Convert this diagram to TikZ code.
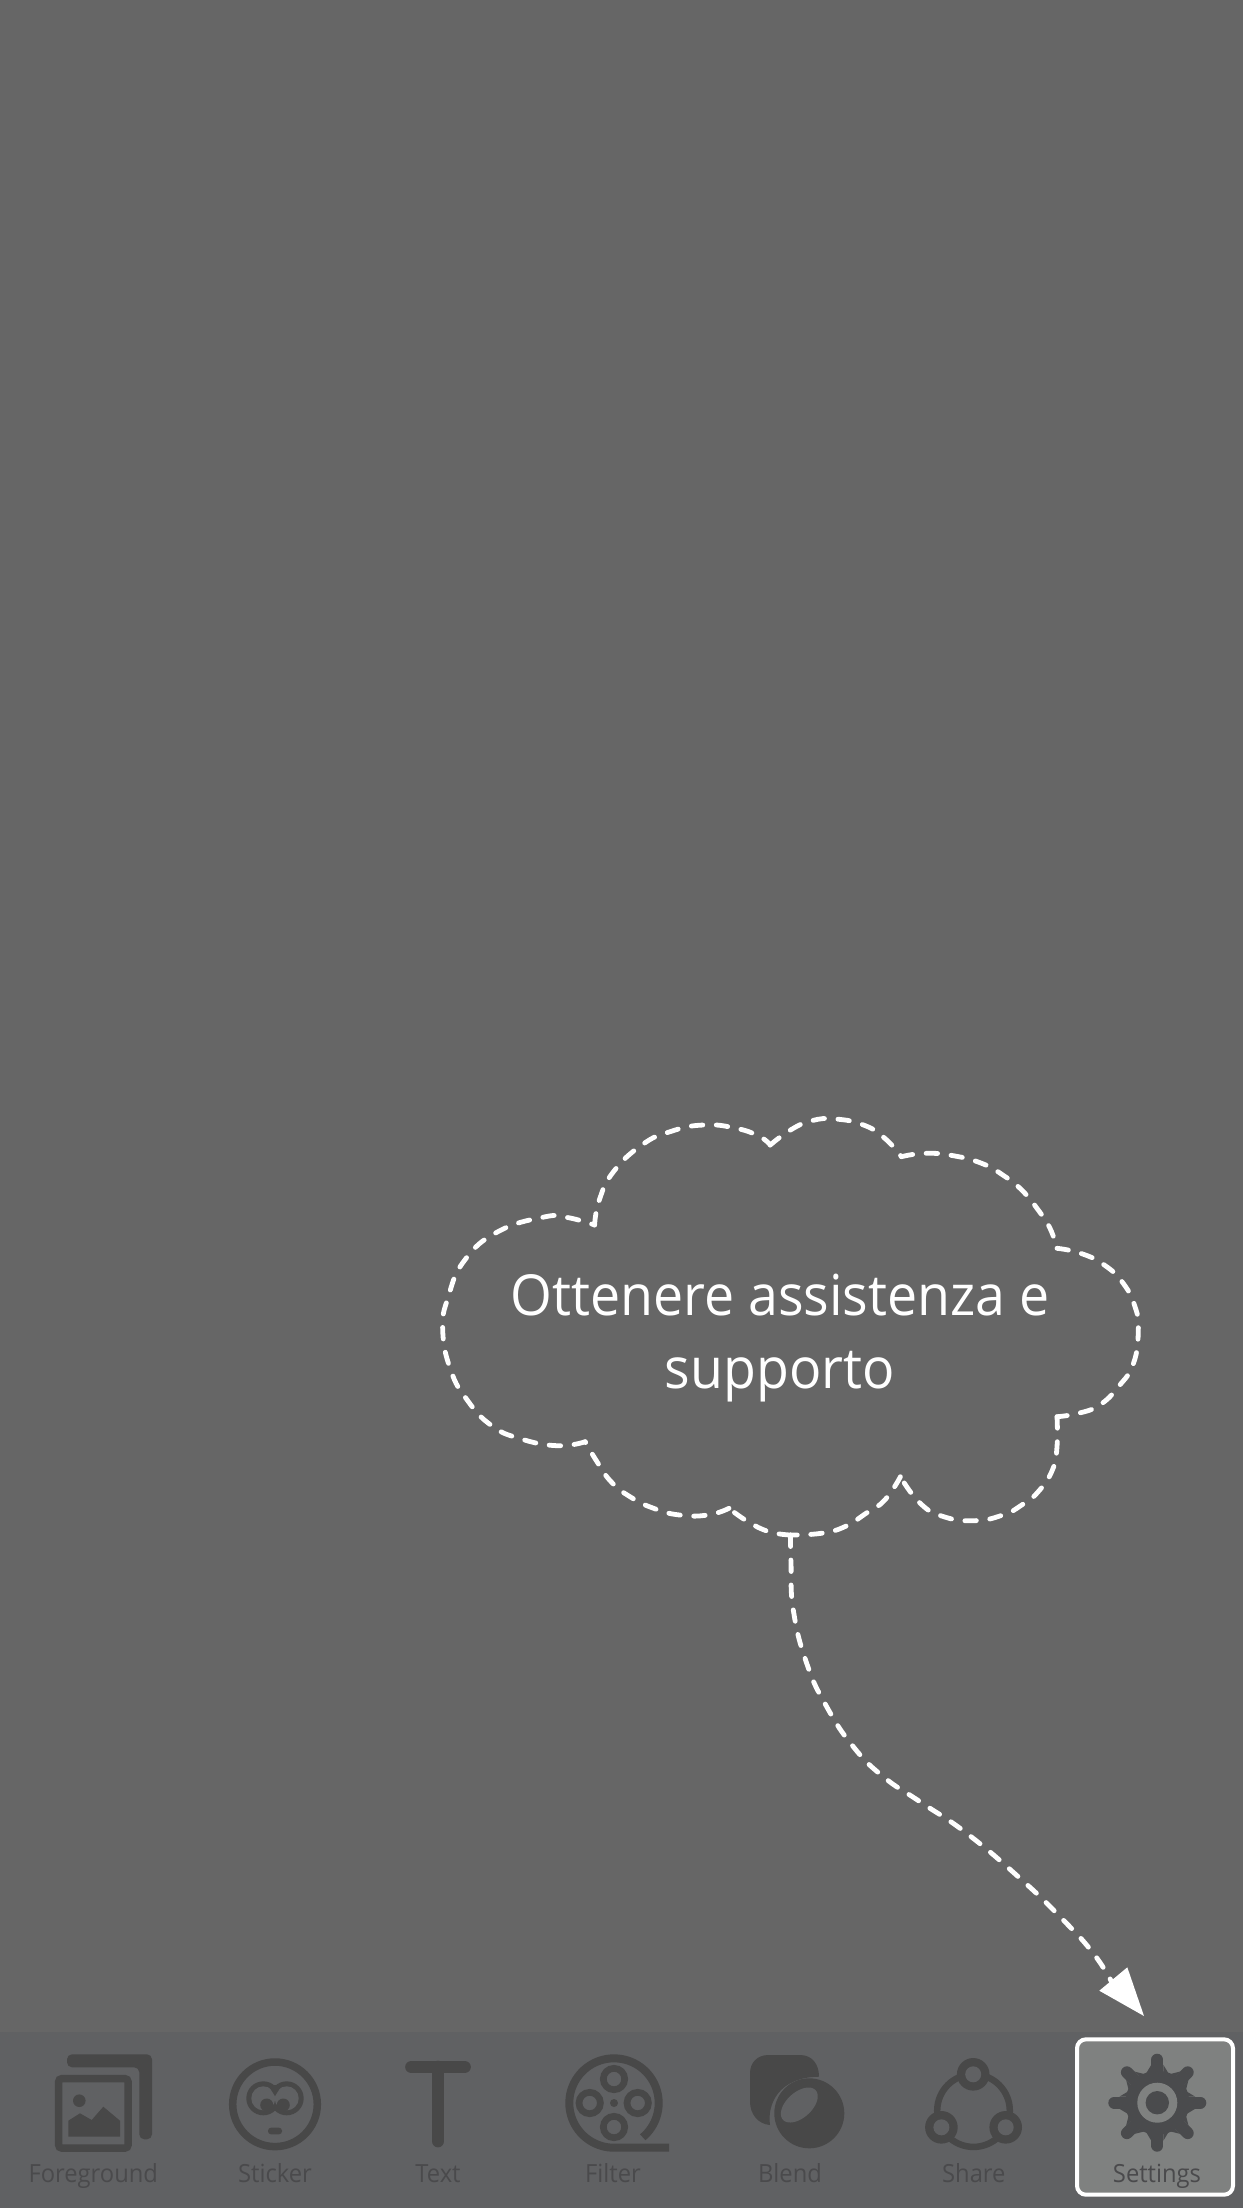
\documentclass[tikz,border=0pt]{standalone}
\usepackage{fontspec}
\setmainfont{Open Sans}
\definecolor{bgc}{HTML}{666666}
\definecolor{barc}{HTML}{606163}
\definecolor{iconc}{HTML}{484848}
\definecolor{labelc}{HTML}{4A4A4C}
\definecolor{selc}{HTML}{7F8180}
\definecolor{gearc}{HTML}{4A4B4D}
\tikzset{
  cloudline/.style={draw=white,line width=4.8pt,line cap=round,dash pattern=on 11.5pt off 13.5pt},
  barlabel/.style={font=\fontsize{25}{28}\selectfont,text=labelc,anchor=base,inner sep=0pt,transform shape,xscale=.95},
  bubbletext/.style={font=\fontsize{56.5}{73}\selectfont,text=white,align=center,inner sep=0pt,transform shape,xscale=.95},
  iconline/.style={draw=iconc,line width=7.5pt},
}
\begin{document}
\begin{tikzpicture}[x=1pt,y=-1pt]
\useasboundingbox (0,0) rectangle (1242,2208);
\fill[bgc] (-6,-6) rectangle (1248,2214);
\fill[barc] (-6,2032) rectangle (1248,2214);
% selected tool
\draw[draw=white,line width=4pt,fill=selc,rounded corners=9pt] (1077,2039.3) rectangle (1233,2194.7);
% cloud cusps
\coordinate (A) at (594.6,1225);
\coordinate (B) at (770.2,1145);
\coordinate (C) at (901.4,1156.7);
\coordinate (D) at (1057,1248.3);
\coordinate (E) at (1057,1416.7);
\coordinate (F) at (900.4,1476.7);
\coordinate (G) at (790.5,1535);
\coordinate (H) at (729,1508.3);
\coordinate (I) at (585.2,1441.7);
\coordinate (tip) at (1144,2016);
% cloud lobes
\draw[cloudline] plot[smooth,tension=.8] coordinates {(A) (599.3,1200) (613.5,1171.7) (641.8,1145) (670,1131.7) (703.2,1125) (736.2,1128.3) (759.8,1136.7) (B)};
\draw[cloudline] plot[smooth,tension=.8] coordinates {(B) (790.5,1130) (811.7,1120.7) (835.3,1119) (863.6,1125) (884.8,1138.3) (C)};
\draw[cloudline] plot[smooth,tension=.8] coordinates {(C) (925,1153.3) (953.3,1155.7) (981.6,1163.3) (1002.8,1175) (1021.7,1190) (1038.2,1210) (1050,1228.3) (D)};
\draw[cloudline] plot[smooth,tension=.8] coordinates {(D) (1080.7,1253.3) (1104.3,1265) (1123.2,1283.3) (1135,1306.7) (1138.3,1330) (1133.5,1363.3) (1118.4,1386.7) (1099.6,1405) (1078.3,1413.3) (E)};
\draw[cloudline] plot[smooth,tension=.8] coordinates {(E) (1057,1446.7) (1052.4,1470) (1038.2,1491.7) (1021.7,1505) (1002.8,1515) (974.5,1520.7) (943.8,1516.7) (920.2,1503.3) (F)};
\draw[cloudline] plot[smooth,tension=.8] coordinates {(F) (884.8,1500) (866,1513.3) (844.7,1526.7) (821.1,1533.3) (G)};
\draw[cloudline] plot[smooth,tension=.8] coordinates {(G) (769.2,1531.7) (748,1521.7) (H)};
\draw[cloudline] plot[smooth,tension=.8] coordinates {(H) (707.9,1515) (679.6,1515) (653.6,1508.3) (630,1496.7) (611.1,1481.7) (597,1461.7) (I)};
\draw[cloudline] plot[smooth,tension=.8] coordinates {(I) (556.9,1445.7) (519,1438.3) (490.8,1425) (467.2,1400) (450.7,1370) (442.7,1330) (448.3,1296.7) (464.8,1260) (497.9,1231.7) (542.7,1217.3) (566.3,1217.3) (A)};
\node[bubbletext] (bubble) at (780,1338) {Ottenere assistenza e\\supporto};
% pointer
\draw[cloudline] plot[smooth,tension=.8] coordinates {(G) (791,1563.3) (793.3,1610) (806.7,1663.3) (826.7,1706.7) (853.3,1746.7) (883.3,1776.7) (920,1801.7) (966.7,1833.3) (1020,1878.3) (1060,1916.7) (1093.3,1953.3) (1113.3,1985)};
\fill[white] (tip) -- (1099.3,1990.7) -- (1127.3,1967.3) -- cycle;
% Foreground
\fill[iconc,rounded corners=5pt] (67,2067.3) -- (67,2054.3) -- (152,2054.3) -- (152,2139.3) -- (139.3,2139.3) -- (139.3,2067.3) -- cycle;
\draw[iconline,rounded corners=3pt] (58.7,2078.7) rectangle (128,2148);
\fill[iconc] (79.3,2100.7) circle (6.3);
\fill[iconc] (68.3,2136.7) -- (68.3,2120.7) -- (80,2113.3) -- (91.7,2120) -- (103.3,2106.7) -- (120,2120.7) -- (120,2136.7) -- cycle;
% Sticker
\draw[iconline] (275,2104.3) circle (42.3);
\fill[iconc] (263.3,2098.3) circle (17) (286.7,2098.3) circle (17);
\fill[barc] (263.3,2098.3) circle (12) (286.7,2098.3) circle (12);
\fill[iconc] (268,2085) -- (282,2085) -- (275,2096) -- cycle;
\fill[iconc] (266.7,2105) circle (6.5) (283.3,2105) circle (6.5);
\fill[iconc,rounded corners=3pt] (268,2127.7) rectangle (282,2134.3);
% Text
\draw[iconc,line width=12.7pt,line cap=round] (411.5,2067) -- (464.5,2067);
\draw[iconc,line width=12.7pt,line cap=round] (438,2067) -- (438,2141);
% Filter
\draw[iconc,line width=8pt] plot[domain=50:-270,samples=80] ({614+44.7*cos(\x)},{2103+44.7*sin(\x)}) -- (669,2147.7);
\foreach \cx/\cy in {614/2079,614/2127,589.7/2103,637.7/2103}
  \draw[iconc,line width=6.7pt] (\cx,\cy) circle (10.7);
\fill[iconc] (614,2103) circle (4);
% Blend
\fill[iconc] (819,2076.7) .. controls (819,2064) and (812,2055) .. (800,2055) -- (768.3,2055) .. controls (757,2055) and (750,2063) .. (750,2073.3) -- (750,2101.7) .. controls (750,2114) and (758,2124) .. (770,2125) .. controls (767,2105) and (778,2077) .. (819,2076.7) -- cycle;
\fill[iconc] (809.3,2113.3) circle (35);
\fill[barc] plot[domain=0:360,samples=60] ({799.3+22*cos(\x)*cos(-42)-12.7*sin(\x)*sin(-42)},{2105+22*cos(\x)*sin(-42)+12.7*sin(\x)*cos(-42)}) -- cycle;
% Share
\draw[iconc,line width=6.5pt] (973.5,2110.6) circle (36.3);
\foreach \cx/\cy in {973.2/2074.3,941.4/2127.3,1005.7/2127.3}{
  \fill[iconc] (\cx,\cy) circle (16.3);
  \fill[barc] (\cx,\cy) circle (8);
}
% Settings gear
\fill[gearc] (1157.3,2102.7) circle (32);
\foreach \a in {0,45,...,315}{
  \draw[gearc,line width=12pt,line cap=round] (1157.3,2102.7) -- ++(\a:43);
  \fill[gearc] (1157.3,2102.7) ++(\a:38) ++(\a+90:6) -- ++(\a+180:10) -- ++(\a+90:6) -- cycle;
  \fill[gearc] (1157.3,2102.7) ++(\a:38) ++(\a-90:6) -- ++(\a+180:10) -- ++(\a-90:6) -- cycle;
}
\fill[selc] (1157.3,2102.7) circle (20);
\fill[gearc] (1157.3,2102.7) circle (11.7);
% labels
\node[barlabel] (l1) at (93.3,2182.7) {Foreground};
\node[barlabel] (l2) at (275,2182.7) {Sticker};
\node[barlabel] (l3) at (438,2182.7) {Text};
\node[barlabel] (l4) at (613,2182.7) {Filter};
\node[barlabel] (l5) at (790,2182.7) {Blend};
\node[barlabel] (l6) at (973.8,2182.7) {Share};
\node[barlabel] (l7) at (1157,2182.7) {Settings};
\end{tikzpicture}
\end{document}
